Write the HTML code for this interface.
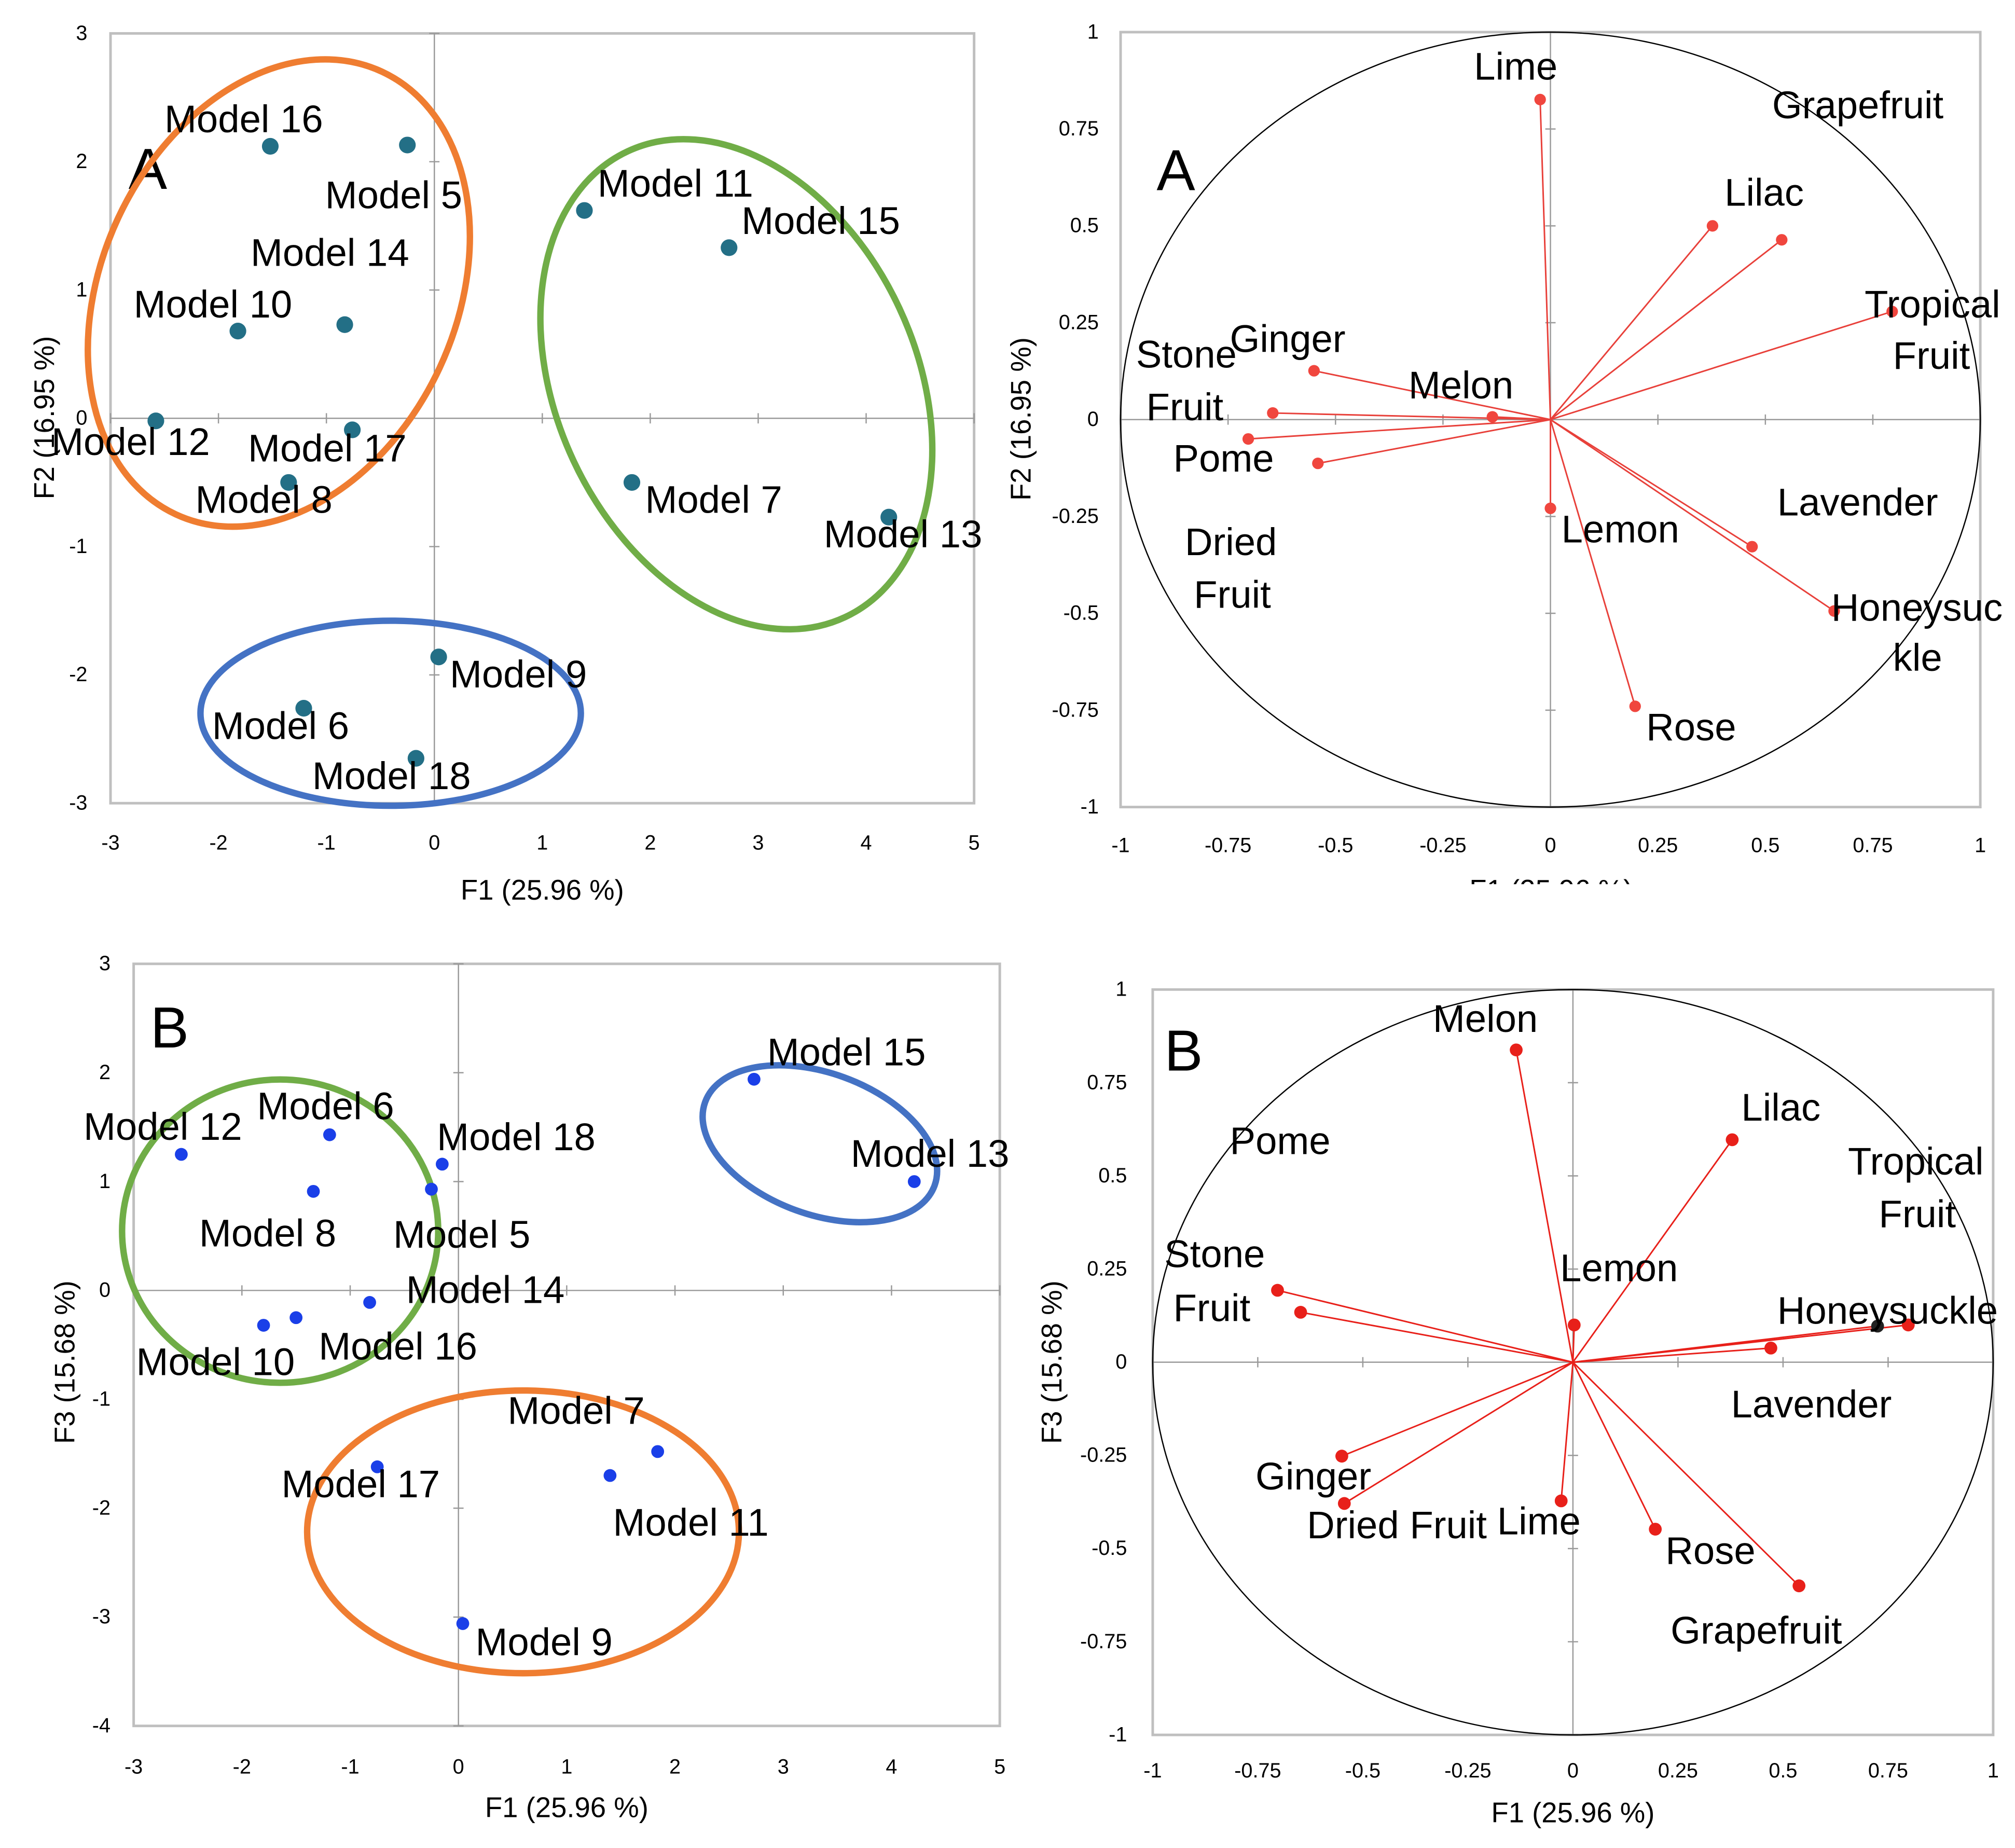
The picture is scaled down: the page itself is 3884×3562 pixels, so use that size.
<!DOCTYPE html>
<html><head><meta charset="utf-8"><style>
html,body{margin:0;padding:0;background:#fff;}
svg{display:block;font-family:"Liberation Sans",sans-serif;}
</style></head><body>
<svg id="chart" width="3884" height="3562" viewBox="0 0 1568 1438" preserveAspectRatio="none" xmlns="http://www.w3.org/2000/svg">
<rect x="0" y="0" width="1568" height="1438" fill="#fff"/>
</svg>
<script>
// ---------- DATA ----------
const tlModels = ["Model 16","Model 5","Model 11","Model 15","Model 14","Model 10","Model 12","Model 17","Model 8","Model 7","Model 13","Model 9","Model 6","Model 18"];
const tlF1 = [-1.52,-0.25,1.39,2.73,-0.83,-1.82,-2.58,-0.76,-1.35,1.83,4.21,0.04,-1.21,-0.17];
const tlF2 = [2.12,2.13,1.62,1.33,0.73,0.68,-0.02,-0.09,-0.5,-0.5,-0.77,-1.86,-2.26,-2.65];

const trVars = ["Lime","Lilac","Grapefruit","Tropical Fruit","Ginger","Stone Fruit","Pome","Dried Fruit","Melon","Lemon","Lavender","Honeysuckle","Rose"];
const trF1 = [-0.024,0.377,0.538,0.795,-0.55,-0.646,-0.703,-0.541,-0.135,0,0.469,0.66,0.197];
const trF2 = [0.826,0.5,0.464,0.279,0.126,0.017,-0.05,-0.113,0.007,-0.229,-0.328,-0.494,-0.74];

const blModels = ["Model 15","Model 13","Model 12","Model 6","Model 18","Model 8","Model 5","Model 14","Model 10","Model 16","Model 17","Model 11","Model 7","Model 9"];
const blF1 = [2.73,4.21,-2.56,-1.19,-0.15,-1.34,-0.25,-0.82,-1.8,-1.5,-0.75,1.4,1.84,0.04];
const blF3 = [1.94,1.0,1.25,1.43,1.16,0.91,0.93,-0.11,-0.32,-0.25,-1.62,-1.7,-1.48,-3.06];

const brVars = ["Melon","Lilac","Stone Fruit","Pome","Lemon","Honeysuckle","Tropical Fruit","Lavender","Ginger","Dried Fruit","Lime","Rose","Grapefruit"];
const brF1 = [-0.135,0.379,-0.703,-0.648,0.003,0.798,0.725,0.471,-0.55,-0.544,-0.028,0.196,0.538];
const brF3 = [0.838,0.597,0.193,0.134,0.1,0.1,0.097,0.038,-0.252,-0.379,-0.372,-0.448,-0.6];

const tlXTicks = [-3,-2,-1,0,1,2,3,4,5];
const tlYTicks = [-3,-2,-1,0,1,2,3];
const blXTicks = [-3,-2,-1,0,1,2,3,4,5];
const blYTicks = [-4,-3,-2,-1,0,1,2,3];
const corXTicks = ["-1","-0.75","-0.5","-0.25","0","0.25","0.5","0.75","1"];
const corYTicks = ["-1","-0.75","-0.5","-0.25","0","0.25","0.5","0.75","1"];

// ---------- HELPERS ----------
const NS="http://www.w3.org/2000/svg";
const svg=document.getElementById('chart');
const LBL=30;
function mk(tag,attrs,parent){const e=document.createElementNS(NS,tag);for(const k in attrs)e.setAttribute(k,attrs[k]);(parent||svg).appendChild(e);return e;}
function txt(s,x,y,size,anchor,parent,extra){const t=mk('text',Object.assign({x:x,y:y,'font-size':size,'text-anchor':anchor||'start',fill:'#000'},extra||{}),parent);t.textContent=s;return t;}

function panel(cfg){
  const g=mk('g',{});
  
  
  const sx=v=>cfg.x0+(v-cfg.xmin)/(cfg.xmax-cfg.xmin)*(cfg.x1-cfg.x0);
  const sy=v=>cfg.y1-(v-cfg.ymin)/(cfg.ymax-cfg.ymin)*(cfg.y1-cfg.y0);
  const fr=mk('rect',{x:cfg.x0,y:cfg.y0,width:cfg.x1-cfg.x0,height:cfg.y1-cfg.y0,fill:'none',stroke:'#bfbfbf','stroke-width':2},g);
  
  
  const zx=mk('line',{x1:cfg.x0,x2:cfg.x1,y1:sy(0),y2:sy(0),stroke:'#9a9a9a','stroke-width':1},g);
  
  
  const zy=mk('line',{x1:sx(0),x2:sx(0),y1:cfg.y0,y2:cfg.y1,stroke:'#9a9a9a','stroke-width':1},g);
  
  
  cfg.xt.forEach(t=>{const v=+t;
    mk('line',{x1:sx(v),x2:sx(v),y1:sy(0)-4,y2:sy(0)+4,stroke:'#9a9a9a'},g);
    const e=txt(String(t),sx(v),cfg.xlabY,16,'middle',g);
    
    });
  cfg.yt.forEach(t=>{const v=+t;
    mk('line',{x1:sx(0)-4,x2:sx(0)+4,y1:sy(v),y2:sy(v),stroke:'#9a9a9a'},g);
    const e=txt(String(t),cfg.ylabX,sy(v)+5,16,'end',g);
    
    });
  const xt=txt(cfg.xtitle[0],cfg.xtitle[1],cfg.xtitle[2],22,'middle',g);
  
  
  const yt=txt(cfg.ytitle[0],cfg.ytitle[1],cfg.ytitle[2],22,'middle',g,{transform:`rotate(-90 ${cfg.ytitle[1]} ${cfg.ytitle[2]})`});
  
  
  const lt=txt(cfg.letter[0],cfg.letter[1],cfg.letter[2],45,'start',g);
  
  
  return {g,sx,sy};
}
function labels(list,g){list.forEach(l=>{const e=txt(l[0],l[1],l[2],LBL,'start',g);
  
  });}

// ---------- TOP LEFT ----------
let P=panel({name:'panel-a-scores',x0:86,x1:758,y0:26,y1:625,xmin:-3,xmax:5,ymin:-3,ymax:3,xt:tlXTicks,yt:tlYTicks,xlabY:661,ylabX:68,
  xtitle:['F1 (25.96 %)',422,700],ytitle:['F2 (16.95 %)',42,325],letter:['A',100,147]});
[['#ef7d31',217,228,138,190,25,'cluster-ellipse-orange'],['#70ad47',573,299,140,200,-25,'cluster-ellipse-green'],['#4472c4',304,555,148,72,0,'cluster-ellipse-blue']].forEach(c=>{
  const e=mk('ellipse',{cx:c[1],cy:c[2],rx:c[3],ry:c[4],transform:`rotate(${c[5]} ${c[1]} ${c[2]})`,fill:'none',stroke:c[0],'stroke-width':5},P.g);
  
  });
tlModels.forEach((m,i)=>{const d=mk('circle',{cx:P.sx(tlF1[i]),cy:P.sy(tlF2[i]),r:6.5,fill:'#236f86'},P.g);
  
  });
labels([['Model 16',128,103],['Model 5',253,162],['Model 11',465,153],['Model 15',577,182],['Model 14',195,207],['Model 10',104,247],['Model 12',40,354],['Model 17',193,359],['Model 8',152,399],['Model 7',502,399],['Model 13',641,426],['Model 9',350,535],['Model 6',165,575],['Model 18',243,614]],P.g);

// ---------- TOP RIGHT ----------
const clipTR=mk('clipPath',{id:'clipTR'});mk('rect',{x:760,y:0,width:808,height:688},clipTR);
P=panel({name:'panel-a-loadings',x0:872,x1:1541,y0:25,y1:628,xmin:-1,xmax:1,ymin:-1,ymax:1,xt:corXTicks,yt:corYTicks,xlabY:663,ylabX:855,
  xtitle:['F1 (25.96 %)',1207,700],ytitle:['F2 (16.95 %)',802,326],letter:['A',900,148]});
P.g.setAttribute('clip-path','url(#clipTR)');
let circ=mk('ellipse',{cx:P.sx(0),cy:P.sy(0),rx:P.sx(1)-P.sx(0),ry:P.sy(0)-P.sy(1),fill:'none',stroke:'#000','stroke-width':1},P.g);


trVars.forEach((v,i)=>{const l=mk('line',{x1:P.sx(0),y1:P.sy(0),x2:P.sx(trF1[i]),y2:P.sy(trF2[i]),stroke:'#e8403a','stroke-width':1.2},P.g);
  
  
  const d=mk('circle',{cx:P.sx(trF1[i]),cy:P.sy(trF2[i]),r:4.5,fill:'#f0463e'},P.g);
  
  });
labels([['Lime',1147,62],['Grapefruit',1379,92],['Lilac',1342,160],['Tropical',1451,247],['Fruit',1473,287],['Ginger',957,274],['Stone',884,286],['Fruit',892,327],['Melon',1096,310],['Pome',913,367],['Dried',922,432],['Fruit',929,473],['Lemon',1215,422],['Lavender',1383,401],['Honeysuc',1425,483],['kle',1473,522],['Rose',1281,576]],P.g);

// ---------- BOTTOM LEFT ----------
P=panel({name:'panel-b-scores',x0:104,x1:778,y0:750,y1:1343,xmin:-3,xmax:5,ymin:-4,ymax:3,xt:blXTicks,yt:blYTicks,xlabY:1380,ylabX:86,
  xtitle:['F1 (25.96 %)',441,1414],ytitle:['F3 (15.68 %)',58,1060],letter:['B',117,815]});
[['#70ad47',218,958,123,118,0,'cluster-ellipse-green'],['#4472c4',638,890,95,55,20,'cluster-ellipse-blue'],['#ef7d31',407,1192,168,110,0,'cluster-ellipse-orange']].forEach(c=>{
  const e=mk('ellipse',{cx:c[1],cy:c[2],rx:c[3],ry:c[4],transform:`rotate(${c[5]} ${c[1]} ${c[2]})`,fill:'none',stroke:c[0],'stroke-width':5},P.g);
  
  });
blModels.forEach((m,i)=>{const d=mk('circle',{cx:P.sx(blF1[i]),cy:P.sy(blF3[i]),r:5,fill:'#1a3fe8'},P.g);
  
  });
labels([['Model 15',597,829],['Model 13',662,908],['Model 12',65,887],['Model 6',200,871],['Model 18',340,895],['Model 8',155,970],['Model 5',306,971],['Model 14',316,1014],['Model 10',106,1070],['Model 16',248,1058],['Model 7',395,1108],['Model 17',219,1165],['Model 11',477,1195],['Model 9',370,1288]],P.g);

// ---------- BOTTOM RIGHT ----------
P=panel({name:'panel-b-loadings',x0:897,x1:1551,y0:770,y1:1350,xmin:-1,xmax:1,ymin:-1,ymax:1,xt:corXTicks,yt:corYTicks,xlabY:1383,ylabX:877,
  xtitle:['F1 (25.96 %)',1224,1418],ytitle:['F3 (15.68 %)',826,1060],letter:['B',906,833]});
circ=mk('ellipse',{cx:P.sx(0),cy:P.sy(0),rx:P.sx(1)-P.sx(0),ry:P.sy(0)-P.sy(1),fill:'none',stroke:'#000','stroke-width':1},P.g);


brVars.forEach((v,i)=>{const l=mk('line',{x1:P.sx(0),y1:P.sy(0),x2:P.sx(brF1[i]),y2:P.sy(brF3[i]),stroke:'#e8201a','stroke-width':1.2},P.g);
  
  
  const d=mk('circle',{cx:P.sx(brF1[i]),cy:P.sy(brF3[i]),r:5,fill:v==='Tropical Fruit'?'#222':'#e8201a'},P.g);
  
  });
labels([['Melon',1115,803],['Lilac',1355,872],['Pome',957,898],['Tropical',1438,914],['Fruit',1462,955],['Stone',906,986],['Fruit',913,1028],['Lemon',1214,997],['Honeysuckle',1383,1030],['Lavender',1347,1103],['Ginger',977,1159],['Dried Fruit',1017,1197],['Lime',1165,1194],['Rose',1296,1217],['Grapefruit',1300,1279]],P.g);
</script>
</body></html>
